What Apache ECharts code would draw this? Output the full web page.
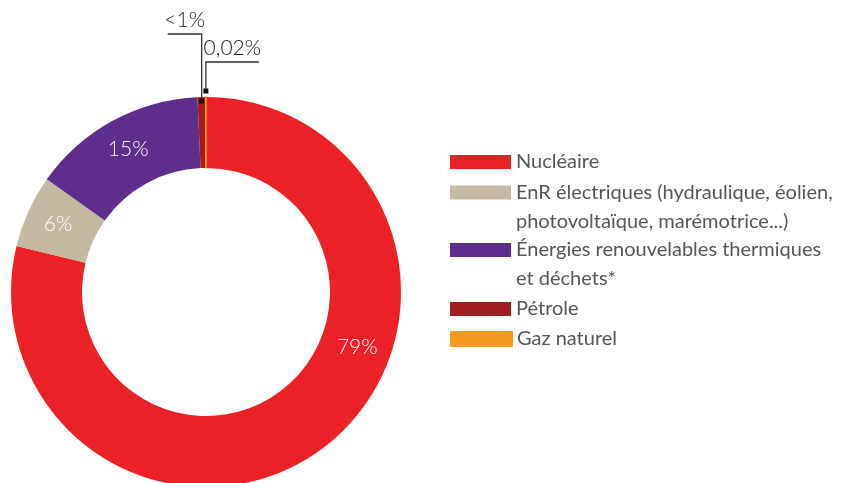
<!DOCTYPE html>
<html>
<head>
<meta charset="utf-8">
<script src="https://cdn.jsdelivr.net/npm/echarts@6/dist/echarts.min.js"></script>
<style>
html, body { margin: 0; padding: 0; background: #fff; }
#chart { width: 852px; height: 483px; }
</style>
</head>
<body>
<div id="chart"></div>
<script>
const categories = [
  'Nucléaire',
  'EnR électriques (hydraulique, éolien,\nphotovoltaïque, marémotrice...)',
  'Énergies renouvelables thermiques\net déchets*',
  'Pétrole',
  'Gaz naturel'
];
const shares = [78.8, 6.0, 14.5, 0.68, 0.02];
const shareLabels = ['79%', '6%', '15%', '<1%', '0,02%'];
const colors = ['#ec2128', '#c4b8a1', '#5f2d8b', '#a11d21', '#f6991f'];

const CX = 206, CY = 292, R_IN = 124, R_OUT = 195;
const FONT = 'Lato, "Open Sans", sans-serif';
const TEXT = '#555659';
const LINE = '#333';

// angle of the middle of each slice, clockwise from 12 o'clock
const total = shares.reduce((a, b) => a + b, 0);
const midAngles = [];
let acc = 0;
shares.forEach((v) => {
  midAngles.push(((acc + v / 2) / total) * Math.PI * 2);
  acc += v;
});
const polar = (a, r) => [CX + r * Math.sin(a), CY - r * Math.cos(a)];

// leader lines for the two tiny slices
const leaders = {
  3: { r: 191, lineY: 34, run: -34 },
  4: { r: 201, lineY: 62, run: 53 }
};

const legendRows = [162, 192.5, 250, 309, 339];

const chart = echarts.init(document.getElementById('chart'));

const labelLayout = (params) => {
  const i = params.dataIndex;
  if (i === 0) {
    // the 79% sits lower right, not at the slice middle
    const p = polar((110 / 180) * Math.PI, 161);
    return { x: p[0], y: p[1], align: 'center', verticalAlign: 'middle' };
  }
  const ld = leaders[i];
  if (!ld) return {};
  const s = polar(midAngles[i], ld.r);
  const end = s[0] + ld.run;
  return {
    x: (s[0] + end) / 2,
    y: ld.lineY - 14,
    align: 'center',
    verticalAlign: 'middle',
    labelLinePoints: [s, [s[0], ld.lineY], [end, ld.lineY]]
  };
};

const data = categories.map((name, i) => {
  const item = { name, value: shares[i], itemStyle: { color: colors[i] } };
  if (leaders[i]) {
    item.label = { position: 'outside', color: '#1d1d1f', fontSize: 21 };
    item.labelLine = { show: true, lineStyle: { color: LINE, width: 1.3 } };
  }
  if (i === 4) item.itemStyle = { color: colors[i], borderColor: colors[i], borderWidth: 1.6 };
  return item;
});

const squares = Object.keys(leaders).map((k) => {
  const p = polar(midAngles[k], leaders[k].r);
  return {
    type: 'rect',
    shape: { x: p[0] - 2.5, y: p[1] - 2.5, width: 5, height: 5 },
    style: { fill: '#111' },
    z: 100
  };
});

const option = {
  animation: false,
  backgroundColor: '#fff',
  legend: categories.map((name, i) => {
    const twoLines = name.includes('\n');
    return {
      data: [name],
      orient: 'vertical',
      left: 450,
      top: legendRows[i] - 14.5,
      padding: 0,
      itemWidth: 61,
      itemHeight: twoLines ? 43 : 14,
      icon: twoLines ? 'path://M0 0H61V14H0Z M0 43L0.01 43' : 'rect',
      selectedMode: false,
      textStyle: { fontFamily: FONT, fontSize: 20, color: TEXT, lineHeight: 29 }
    };
  }),
  graphic: squares,
  series: [
    {
      type: 'pie',
      center: [CX, CY],
      radius: [R_IN, R_OUT],
      startAngle: 90,
      clockwise: true,
      avoidLabelOverlap: false,
      silent: true,
      emphasis: { disabled: true },
      label: {
        show: true,
        position: 'inside',
        color: '#fff',
        fontFamily: FONT,
        fontSize: 21,
        fontWeight: 300,
        formatter: (p) => shareLabels[p.dataIndex]
      },
      labelLine: { show: false },
      labelLayout,
      data
    }
  ]
};

chart.setOption(option);
</script>
</body>
</html>
